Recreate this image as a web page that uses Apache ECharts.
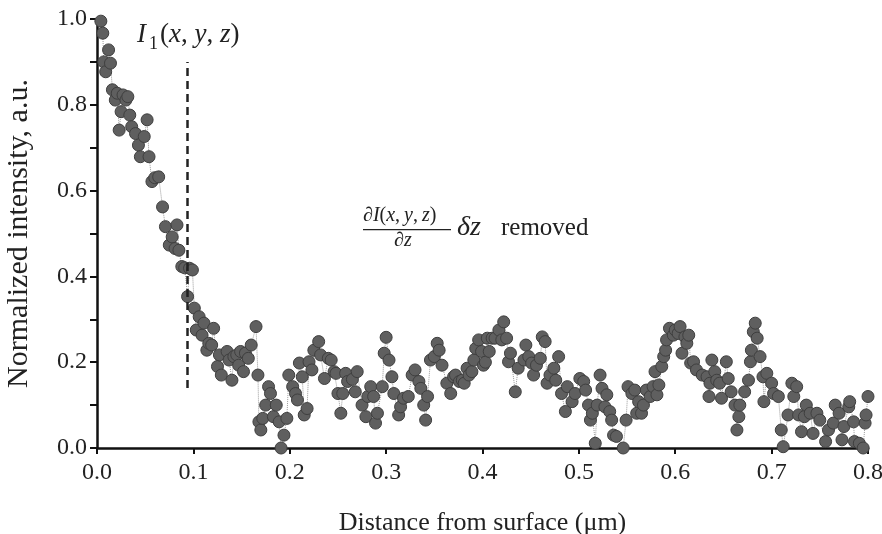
<!DOCTYPE html>
<html>
<head>
<meta charset="utf-8">
<script src="https://cdn.jsdelivr.net/npm/echarts@6/dist/echarts.min.js"></script>
<style>
  html, body { margin: 0; padding: 0; background: #fff; }
  #chart { width: 882px; height: 534px; }
</style>
</head>
<body>
<div id="chart"></div>
<script>
// distance from surface (um)
const xs = [
  0.004, 0.006, 0.007, 0.009, 0.012, 0.014, 0.016, 0.019, 0.021, 0.023,
  0.025, 0.027, 0.030, 0.032, 0.034, 0.036, 0.040, 0.043, 0.045, 0.049,
  0.052, 0.054, 0.057, 0.060, 0.064, 0.068, 0.071, 0.075, 0.078, 0.081,
  0.083, 0.085, 0.088, 0.091, 0.094, 0.096, 0.099, 0.101, 0.103, 0.106,
  0.109, 0.111, 0.114, 0.116, 0.119, 0.121, 0.125, 0.127, 0.129, 0.135,
  0.137, 0.140, 0.142, 0.145, 0.147, 0.149, 0.152, 0.154, 0.157, 0.160,
  0.165, 0.167, 0.168, 0.170, 0.172, 0.175, 0.178, 0.180, 0.183, 0.186,
  0.189, 0.191, 0.194, 0.197, 0.199, 0.203, 0.206, 0.208, 0.210, 0.213,
  0.215, 0.218, 0.220, 0.223, 0.225, 0.230, 0.232, 0.236, 0.240, 0.243,
  0.246, 0.248, 0.250, 0.253, 0.255, 0.258, 0.260, 0.265, 0.268, 0.270,
  0.275, 0.279, 0.281, 0.284, 0.287, 0.289, 0.291, 0.296, 0.298, 0.300,
  0.303, 0.306, 0.308, 0.313, 0.315, 0.318, 0.323, 0.327, 0.330, 0.334,
  0.336, 0.339, 0.341, 0.343, 0.346, 0.350, 0.353, 0.355, 0.358, 0.363,
  0.367, 0.370, 0.372, 0.376, 0.379, 0.381, 0.384, 0.386, 0.389, 0.391,
  0.393, 0.396, 0.399, 0.401, 0.403, 0.405, 0.407, 0.410, 0.413, 0.417,
  0.420, 0.422, 0.425, 0.427, 0.429, 0.434, 0.437, 0.443, 0.445, 0.448,
  0.451, 0.453, 0.456, 0.460, 0.462, 0.465, 0.467, 0.470, 0.474, 0.476,
  0.479, 0.482, 0.486, 0.488, 0.493, 0.496, 0.501, 0.505, 0.507, 0.510,
  0.512, 0.514, 0.517, 0.519, 0.522, 0.524, 0.527, 0.529, 0.532, 0.534,
  0.536, 0.539, 0.546, 0.549, 0.551, 0.555, 0.558, 0.560, 0.562, 0.565,
  0.567, 0.570, 0.574, 0.577, 0.579, 0.581, 0.583, 0.586, 0.588, 0.590,
  0.591, 0.594, 0.598, 0.600, 0.603, 0.605, 0.607, 0.610, 0.612, 0.614,
  0.616, 0.619, 0.622, 0.628, 0.633, 0.635, 0.636, 0.638, 0.641, 0.643,
  0.646, 0.648, 0.653, 0.655, 0.658, 0.662, 0.664, 0.666, 0.667, 0.672,
  0.676, 0.678, 0.679, 0.681, 0.683, 0.685, 0.688, 0.691, 0.692, 0.695,
  0.700, 0.702, 0.707, 0.710, 0.712, 0.717, 0.721, 0.723, 0.726, 0.728,
  0.731, 0.734, 0.736, 0.740, 0.743, 0.747, 0.750, 0.756, 0.759, 0.764,
  0.766, 0.770, 0.773, 0.775, 0.780, 0.781, 0.785, 0.786, 0.791, 0.795,
  0.797, 0.798, 0.800
]

// normalized intensity (a.u.)
const ys = [
  0.995, 0.967, 0.900, 0.877, 0.928, 0.897, 0.835, 0.811, 0.827, 0.741,
  0.784, 0.823, 0.811, 0.819, 0.776, 0.749, 0.733, 0.706, 0.679, 0.726,
  0.765, 0.679, 0.621, 0.630, 0.632, 0.562, 0.516, 0.473, 0.492, 0.465,
  0.520, 0.461, 0.423, 0.420, 0.353, 0.419, 0.415, 0.326, 0.275, 0.306,
  0.263, 0.291, 0.228, 0.244, 0.240, 0.279, 0.190, 0.217, 0.170, 0.225,
  0.205, 0.158, 0.213, 0.217, 0.193, 0.225, 0.178, 0.221, 0.209, 0.240,
  0.283, 0.170, 0.061, 0.042, 0.069, 0.100, 0.143, 0.127, 0.073, 0.100,
  0.061, 0.000, 0.030, 0.069, 0.170, 0.143, 0.127, 0.112, 0.198, 0.166,
  0.077, 0.092, 0.201, 0.182, 0.228, 0.248, 0.217, 0.162, 0.209, 0.205,
  0.178, 0.174, 0.127, 0.081, 0.127, 0.174, 0.155, 0.160, 0.131, 0.178,
  0.100, 0.073, 0.120, 0.143, 0.120, 0.058, 0.081, 0.143, 0.221, 0.258,
  0.205, 0.166, 0.127, 0.077, 0.096, 0.116, 0.120, 0.170, 0.182, 0.155,
  0.139, 0.100, 0.065, 0.120, 0.205, 0.213, 0.244, 0.228, 0.193, 0.151,
  0.127, 0.166, 0.170, 0.155, 0.158, 0.151, 0.186, 0.170, 0.178, 0.205,
  0.232, 0.252, 0.225, 0.193, 0.200, 0.256, 0.225, 0.256, 0.256, 0.275,
  0.252, 0.294, 0.256, 0.201, 0.221, 0.131, 0.186, 0.205, 0.240, 0.213,
  0.198, 0.170, 0.193, 0.209, 0.259, 0.248, 0.151, 0.170, 0.186, 0.158,
  0.213, 0.127, 0.085, 0.143, 0.108, 0.127, 0.162, 0.155, 0.135, 0.100,
  0.065, 0.081, 0.011, 0.100, 0.170, 0.139, 0.096, 0.124, 0.085, 0.065,
  0.030, 0.027, 0.000, 0.065, 0.143, 0.127, 0.135, 0.081, 0.108, 0.081,
  0.100, 0.135, 0.120, 0.143, 0.178, 0.124, 0.147, 0.190, 0.213, 0.228,
  0.252, 0.279, 0.263, 0.275, 0.267, 0.283, 0.221, 0.259, 0.244, 0.263,
  0.198, 0.201, 0.182, 0.170, 0.166, 0.120, 0.151, 0.205, 0.178, 0.158,
  0.151, 0.116, 0.201, 0.162, 0.131, 0.100, 0.042, 0.073, 0.100, 0.131,
  0.158, 0.201, 0.228, 0.271, 0.291, 0.256, 0.213, 0.166, 0.108, 0.174,
  0.151, 0.127, 0.120, 0.042, 0.003, 0.077, 0.151, 0.120, 0.143, 0.077,
  0.038, 0.073, 0.100, 0.081, 0.034, 0.081, 0.065, 0.015, 0.042, 0.058,
  0.100, 0.081, 0.019, 0.050, 0.096, 0.108, 0.061, 0.015, 0.011, 0.000,
  0.058, 0.077, 0.120
]

const xTicks = [0, 0.1, 0.2, 0.3, 0.4, 0.5, 0.6, 0.7, 0.8]
const yTicks = [0, 0.2, 0.4, 0.6, 0.8, 1.0]

// dashed marker line at the end of the near-surface region
const markerX = 0.094
const markerY = [0.14, 0.9]

const serif = 'Liberation Serif'
const points = xs.map((x, i) => [x, ys[i]])

const chart = echarts.init(document.getElementById('chart'))

chart.setOption({
  backgroundColor: '#fff',
  animation: false,
  grid: { left: 97, right: 14, top: 19, bottom: 86, outerBoundsMode: 'none', containLabel: false },
  xAxis: {
    type: 'value',
    min: xTicks[0],
    max: xTicks[xTicks.length - 1],
    interval: 0.1,
    name: 'Distance from surface (\u03bcm)',
    nameLocation: 'middle',
    nameGap: 62,
    nameTextStyle: { fontFamily: serif, fontSize: 26, color: '#222' },
    axisLine: { lineStyle: { color: '#111', width: 2.5 } },
    axisTick: { show: true, length: 6, inside: false, lineStyle: { color: '#111', width: 2 } },
    axisLabel: {
      fontFamily: serif, fontSize: 24, color: '#222', margin: 13,
      formatter: v => v.toFixed(1)
    },
    splitLine: { show: false }
  },
  yAxis: {
    type: 'value',
    min: yTicks[0],
    max: yTicks[yTicks.length - 1],
    interval: 0.2,
    name: 'Normalized intensity, a.u.',
    nameLocation: 'middle',
    nameGap: 63,
    nameTextStyle: { fontFamily: serif, fontSize: 30, color: '#222' },
    axisLine: { show: true, lineStyle: { color: '#111', width: 2.5 } },
    axisTick: { show: true, length: 7, lineStyle: { color: '#111', width: 2 } },
    minorTick: { show: true, splitNumber: 2, length: 7, lineStyle: { color: '#111', width: 2 } },
    axisLabel: {
      fontFamily: serif, fontSize: 24, color: '#222', margin: 10,
      formatter: v => v.toFixed(1)
    },
    splitLine: { show: false }
  },
  series: [
    {
      type: 'line',
      data: points,
      clip: false,
      showAllSymbol: true,
      symbol: 'circle',
      symbolSize: 12,
      lineStyle: { color: '#9a9a9a', width: 1, type: 'dotted' },
      itemStyle: { color: '#5f5f5f', borderColor: '#3f3f3f', borderWidth: 1 },
      markLine: {
        silent: true,
        symbol: 'none',
        label: { show: false },
        lineStyle: { color: '#222', width: 2.5, type: [8, 5] },
        data: [[{ coord: [markerX, markerY[0]] }, { coord: [markerX, markerY[1]] }]]
      }
    }
  ],
  graphic: [
    // I_1(x, y, z)
    { type: 'text', left: 137, top: 21, style: { text: 'I', font: 'italic 27px "Liberation Serif"', fill: '#222' } },
    { type: 'text', left: 149, top: 35, style: { text: '1', font: '18px "Liberation Serif"', fill: '#222' } },
    {
      type: 'text', left: 160, top: 21,
      style: {
        text: '({i|x}, {i|y}, {i|z})',
        font: '27px "Liberation Serif"', fill: '#222',
        rich: { i: { fontFamily: serif, fontStyle: 'italic', fontSize: 27, fill: '#222' } }
      }
    },
    // dI(x,y,z)/dz  dz removed
    {
      type: 'text', left: 363, top: 206,
      style: {
        text: '\u2202{i|I}({i|x},\u2009{i|y},\u2009{i|z})',
        font: '20px "Liberation Serif"', fill: '#222',
        rich: { i: { fontFamily: serif, fontStyle: 'italic', fontSize: 20, fill: '#222' } }
      }
    },
    { type: 'rect', shape: { x: 363, y: 229, width: 88, height: 1.2 }, style: { fill: '#222' } },
    {
      type: 'text', left: 394, top: 231,
      style: {
        text: '\u2202{i|z}',
        font: '20px "Liberation Serif"', fill: '#222',
        rich: { i: { fontFamily: serif, fontStyle: 'italic', fontSize: 20, fill: '#222' } }
      }
    },
    { type: 'text', left: 457, top: 214, style: { text: '\u03b4z', font: 'italic 28px "Liberation Serif"', fill: '#222' } },
    { type: 'text', left: 501, top: 216, style: { text: 'removed', font: '25px "Liberation Serif"', fill: '#222' } }
  ]
})

window.addEventListener('resize', () => chart.resize())
</script>
</body>
</html>
